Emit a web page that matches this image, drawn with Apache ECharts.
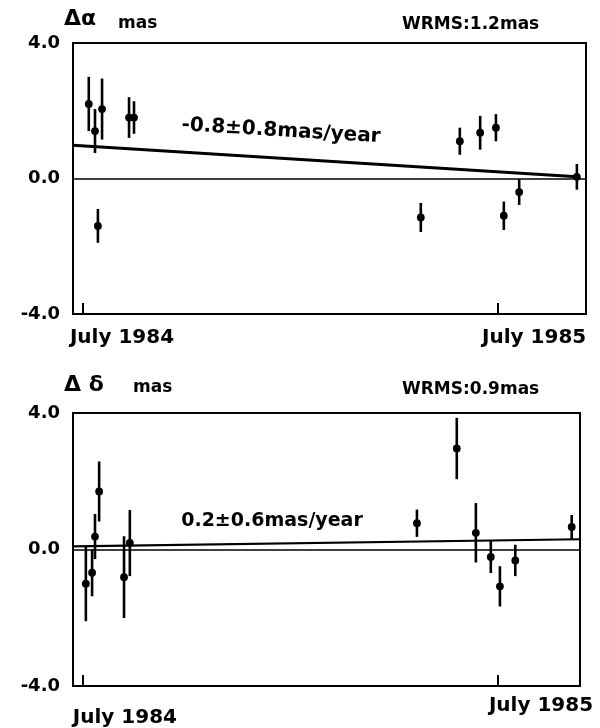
<!DOCTYPE html>
<html><head><meta charset="utf-8">
<script src="https://cdn.jsdelivr.net/npm/echarts@6/dist/echarts.min.js"></script>
<style>html,body{margin:0;padding:0;background:#fff}#c{width:600px;height:728px}</style>
</head><body><div id="c"></div>
<script>
// Δα panel (right ascension residuals, mas)
const raDates  = [1984.514, 1984.529, 1984.546, 1984.536, 1984.611, 1984.623, 1985.314, 1985.408, 1985.457, 1985.495, 1985.514, 1985.551, 1985.690];
const raValues = [2.2, 1.4, 2.05, -1.4, 1.8, 1.8, -1.15, 1.1, 1.35, 1.5, -1.1, -0.4, 0.05];
const raErrors = [0.8, 0.65, 0.9, 0.5, 0.6, 0.48, 0.43, 0.4, 0.5, 0.4, 0.42, 0.38, 0.38];
const raTrend  = [[1984.476, 0.98], [1985.690, 0.05]];
// Δδ panel (declination residuals, mas)
const decDates  = [1984.507, 1984.522, 1984.529, 1984.539, 1984.599, 1984.613, 1985.305, 1985.401, 1985.447, 1985.483, 1985.505, 1985.542, 1985.678];
const decValues = [-1.0, -0.68, 0.38, 1.7, -0.81, 0.19, 0.77, 2.96, 0.49, -0.22, -1.08, -0.32, 0.66];
const decErrors = [1.1, 0.69, 0.66, 0.88, 1.2, 0.97, 0.4, 0.9, 0.87, 0.47, 0.59, 0.46, 0.35];
const decTrend  = [[1984.476, 0.09], [1985.698, 0.30]];
// axis ticks / labels
const tickYears  = [1984.5, 1985.5];
const tickLabels = ['July 1984', 'July 1985'];

const FONT = '"DejaVu Sans", sans-serif';
const chart = echarts.init(document.getElementById('c'), null, {renderer: 'canvas'});

function errSeries(gi, dates, vals, errs) {
  return {
    type: 'custom', xAxisIndex: gi, yAxisIndex: gi, z: 5, silent: true,
    data: dates.map((d, i) => [d, vals[i], errs[i]]),
    encode: {x: 0, y: 1},
    renderItem(params, api) {
      const x = api.value(0), y = api.value(1), e = api.value(2);
      const p = api.coord([x, y]), lo = api.coord([x, y - e]), hi = api.coord([x, y + e]);
      return {type: 'group', children: [
        {type: 'line', shape: {x1: p[0], y1: lo[1], x2: p[0], y2: hi[1]}, style: {stroke: '#000', lineWidth: 2.6}},
        {type: 'circle', shape: {cx: p[0], cy: p[1], r: 3.9}, style: {fill: '#000'}}
      ]};
    }
  };
}
function trendSeries(gi, data, w) {
  return {
    type: 'line', xAxisIndex: gi, yAxisIndex: gi, data: data, symbol: 'none', silent: true,
    lineStyle: {color: '#000', width: w},
    markLine: {symbol: 'none', silent: true, label: {show: false},
      lineStyle: {color: '#000', width: 1.6, type: 'solid'}, data: [{yAxis: 0}]}
  };
}
function labelFor(v) {
  let best = 0;
  tickYears.forEach((t, i) => { if (Math.abs(t - v) < Math.abs(tickYears[best] - v)) best = i; });
  return best;
}
// label centres sit a little to the right of their ticks, as in the original
function xAxisCfg(gi, min, max, shifts, margin, richA, richB) {
  return {
    gridIndex: gi, type: 'value', min: min, max: max,
    axisLine: {show: false, onZero: false}, splitLine: {show: false},
    axisTick: {show: true, inside: true, length: 11, customValues: tickYears, lineStyle: {color: '#000', width: 2}},
    axisLabel: {
      show: true, customValues: tickYears.map((t, i) => t + shifts[i]), align: 'center', margin: margin,
      showMinLabel: true, showMaxLabel: true, hideOverlap: false,
      formatter: v => { const i = labelFor(v); return (i === 0 ? '{a|' : '{b|') + tickLabels[i] + '}'; },
      rich: {a: richA, b: richB}
    }
  };
}
function yAxisCfg(gi) {
  return {
    gridIndex: gi, type: 'value', min: -4, max: 4, interval: 4,
    axisLine: {show: false}, axisTick: {show: false}, splitLine: {show: false},
    axisLabel: {margin: 13, color: '#000', fontFamily: FONT, fontWeight: 'bold', fontSize: 18,
      formatter: v => v.toFixed(1)}
  };
}
const lab = {color: '#000', fontFamily: FONT, fontWeight: 'bold', fontSize: 20};

chart.setOption({
  animation: false,
  backgroundColor: '#fff',
  grid: [
    {left: 73, top: 43, width: 513, height: 271, show: true, borderColor: '#000', borderWidth: 2},
    {left: 73, top: 413, width: 507, height: 273, show: true, borderColor: '#000', borderWidth: 2}
  ],
  xAxis: [
    xAxisCfg(0, 1984.476, 1985.712, [0.094, 0.087], 14, Object.assign({}, lab), Object.assign({}, lab)),
    xAxisCfg(1, 1984.476, 1985.698, [0.101, 0.104], 10, Object.assign({padding: [12, 0, 0, 0]}, lab), Object.assign({}, lab))
  ],
  yAxis: [yAxisCfg(0), yAxisCfg(1)],
  series: [
    trendSeries(0, raTrend, 3),
    errSeries(0, raDates, raValues, raErrors),
    trendSeries(1, decTrend, 2.2),
    errSeries(1, decDates, decValues, decErrors)
  ],
  graphic: [
    {type: 'text', left: 64, top: 8, style: {text: 'Δα', font: 'bold 22px ' + FONT, fill: '#000'}},
    {type: 'text', left: 118, top: 15, style: {text: 'mas', font: 'bold 17px ' + FONT, fill: '#000'}},
    {type: 'text', left: 402, top: 16, style: {text: 'WRMS:1.2mas', font: 'bold 17px ' + FONT, fill: '#000'}},
    {type: 'text', x: 281, y: 131, rotation: -0.06,
      style: {text: '-0.8±0.8mas/year', font: 'bold 20px ' + FONT, fill: '#000', align: 'center', verticalAlign: 'middle'}},
    {type: 'text', left: 64, top: 374, style: {text: 'Δ δ', font: 'bold 22px ' + FONT, fill: '#000'}},
    {type: 'text', left: 133, top: 379, style: {text: 'mas', font: 'bold 17px ' + FONT, fill: '#000'}},
    {type: 'text', left: 402, top: 381, style: {text: 'WRMS:0.9mas', font: 'bold 17px ' + FONT, fill: '#000'}},
    {type: 'text', x: 272, y: 521,
      style: {text: '0.2±0.6mas/year', font: 'bold 19px ' + FONT, fill: '#000', align: 'center', verticalAlign: 'middle'}}
  ]
});
</script></body></html>
